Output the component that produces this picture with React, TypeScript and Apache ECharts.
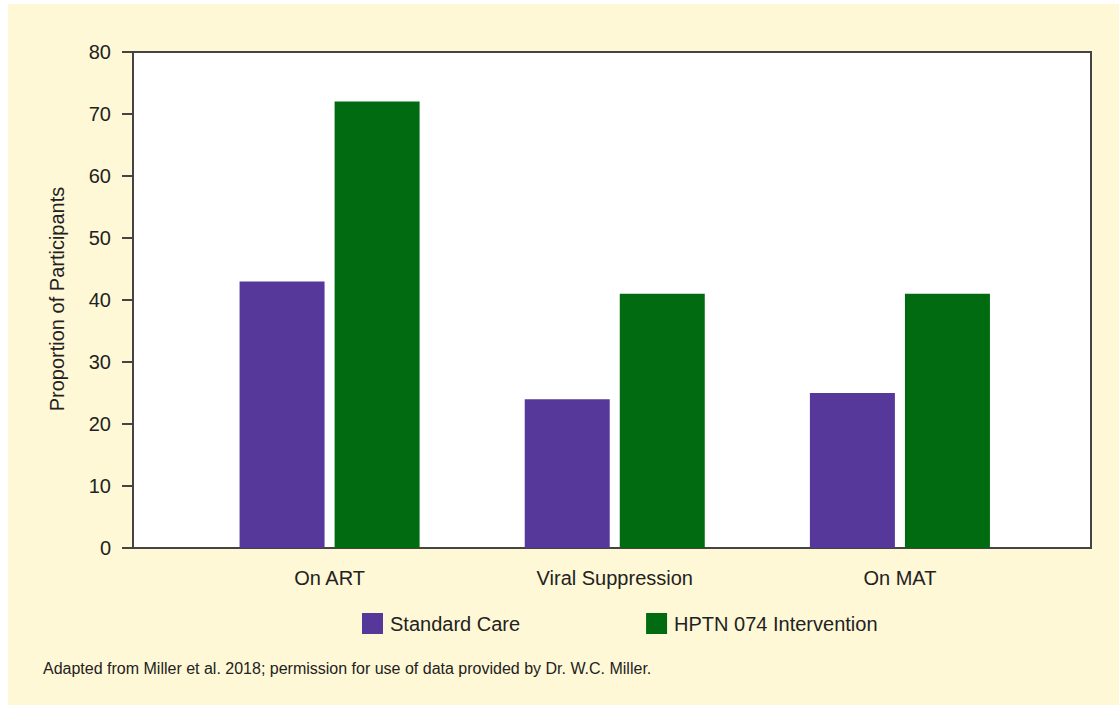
import React, { useEffect, useRef } from "react";
import * as echarts from "echarts";

const categories = ["On ART", "Viral Suppression", "On MAT"];
const standardCare = [43, 24, 25];
const intervention = [72, 41, 41];
const yTicks = { min: 0, max: 80, interval: 10 };
const seriesNames = ["Standard Care", "HPTN 074 Intervention"];
const yTitle = "Proportion of Participants";
const footnote =
  "Adapted from Miller et al. 2018; permission for use of data provided by Dr. W.C. Miller.";

const FONT = "'Liberation Sans', Arial, Helvetica, sans-serif";
const PURPLE = "#56389A";
const GREEN = "#006B10";
const TEXT = "#222";

export default function App() {
  const ref = useRef<HTMLDivElement>(null);

  useEffect(() => {
    if (!ref.current) return;
    const chart = echarts.init(ref.current, undefined, { renderer: "svg" });
    chart.setOption({
      animation: false,
      backgroundColor: "transparent",
      graphic: [
        {
          type: "rect",
          z: -100,
          silent: true,
          shape: { x: 8, y: 4, width: 1111, height: 701 },
          style: { fill: "#FFF8D6" },
        },
        {
          type: "text",
          x: 57,
          y: 299,
          rotation: Math.PI / 2,
          style: {
            text: yTitle,
            fill: TEXT,
            font: `20px ${FONT}`,
            align: "center",
            verticalAlign: "middle",
          },
        },
        {
          type: "text",
          x: 43,
          y: 668,
          style: {
            text: footnote,
            fill: TEXT,
            font: `16px ${FONT}`,
            align: "left",
            verticalAlign: "middle",
          },
        },
      ],
      grid: [
        {
          left: 133,
          top: 52,
          width: 958,
          height: 496,
          show: true,
          backgroundColor: "#ffffff",
          borderColor: "#444",
          borderWidth: 2,
        },
        {
          left: 187,
          top: 52,
          width: 855.5,
          height: 496,
        },
      ],
      legend: {
        left: 362,
        top: 613,
        padding: 0,
        itemWidth: 21,
        itemHeight: 21,
        itemGap: 126,
        icon: "rect",
        data: seriesNames,
        textStyle: {
          fontFamily: FONT,
          fontSize: 20,
          color: TEXT,
          padding: [0, 0, 0, 2],
        },
      },
      xAxis: [
        { type: "value", gridIndex: 0, show: false },
        {
          type: "category",
          gridIndex: 1,
          data: categories,
          axisLine: { show: false },
          axisTick: { show: false },
          axisLabel: {
            margin: 20,
            fontFamily: FONT,
            fontSize: 20,
            color: TEXT,
          },
        },
      ],
      yAxis: [
        {
          type: "value",
          gridIndex: 0,
          min: yTicks.min,
          max: yTicks.max,
          interval: yTicks.interval,
          splitLine: { show: false },
          axisLine: { show: true, lineStyle: { color: "#444", width: 2 } },
          axisTick: { show: true, length: 11, lineStyle: { color: "#444", width: 2 } },
          axisLabel: {
            margin: 22,
            fontFamily: FONT,
            fontSize: 20,
            color: TEXT,
          },
        },
        {
          type: "value",
          gridIndex: 1,
          min: yTicks.min,
          max: yTicks.max,
          interval: yTicks.interval,
          show: false,
          splitLine: { show: false },
        },
      ],
      series: [
        {
          name: seriesNames[0],
          type: "bar",
          xAxisIndex: 1,
          yAxisIndex: 1,
          data: standardCare,
          barWidth: 85,
          barGap: "11.8%",
          itemStyle: { color: PURPLE },
        },
        {
          name: seriesNames[1],
          type: "bar",
          xAxisIndex: 1,
          yAxisIndex: 1,
          data: intervention,
          barWidth: 85,
          barGap: "11.8%",
          itemStyle: { color: GREEN },
        },
      ],
    });
    return () => chart.dispose();
  }, []);

  return (
    <div
      ref={ref}
      style={{ position: "absolute", left: 0, top: 0, width: 1119, height: 705 }}
    />
  );
}
